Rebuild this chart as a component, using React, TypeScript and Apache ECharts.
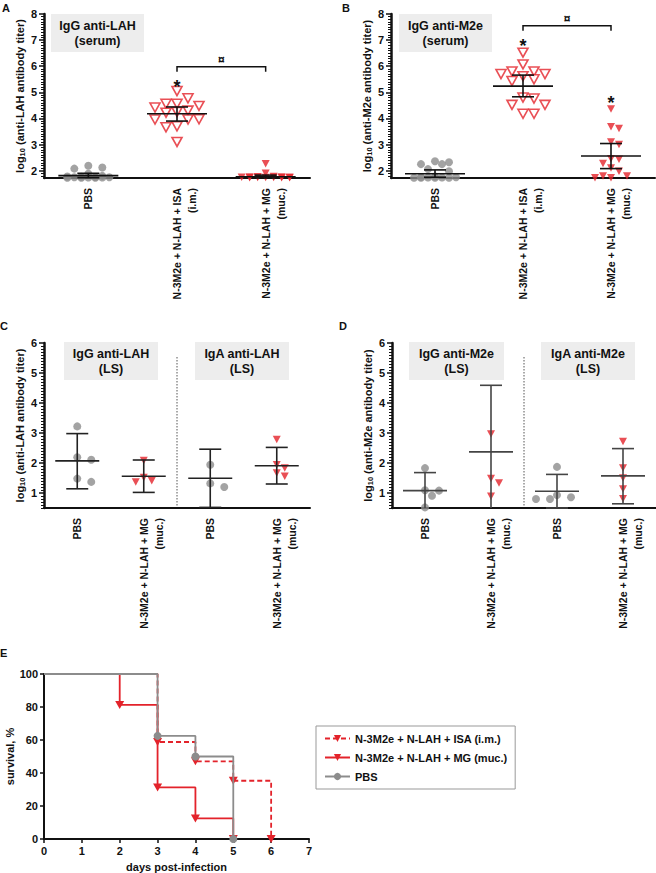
import React, { useEffect, useRef } from "react";
import * as echarts from "echarts";

const FONT = '"Liberation Sans", Arial, sans-serif';
const RED = "#e3232b";
const GRAY = "#8c8c8c";
const INK = "#111111";

// ---------- Panels A / B (serum) ----------
const serumCategories = ["PBS", "N-3M2e + N-LAH + ISA\n(i.m.)", "N-3M2e + N-LAH + MG\n(muc.)"];
const serumTicks = [2, 3, 4, 5, 6, 7, 8];
const serumMin = 1.72;
const serumMax = 8;

const aPBS = [2.19, 2.12, 2.08, 1.88, 1.8, 1.78, 1.77, 1.76, 1.75, 1.75, 1.74, 1.74, 1.73, 1.73, 1.73];
const aISA = [5.05, 4.77, 4.48, 4.56, 4.56, 4.3, 4.22, 4.25, 4.42, 3.96, 3.97, 3.96, 3.7, 3.66, 3.1];
const aMG = [2.27, 1.9, 1.78, 1.77, 1.76, 1.76, 1.75, 1.75, 1.74, 1.74, 1.74, 1.73, 1.73, 1.73];
const aMean = [1.81, 4.18, 1.77];
const aLow = [1.73, 3.9, 1.72];
const aHigh = [1.9, 4.44, 1.83];

const bPBS = [2.36, 2.25, 2.25, 2.32, 2.06, 1.98, 1.78, 1.76, 1.75, 1.74, 1.74, 1.73, 1.73, 1.73, 1.73];
const bISA = [6.52, 6.07, 5.7, 5.8, 5.8, 5.7, 5.62, 5.43, 5.5, 4.76, 4.8, 4.52, 4.52, 4.18, 4.18];
const bMG = [4.36, 3.68, 3.62, 3.1, 3.0, 2.44, 2.46, 2.28, 2.1, 1.98, 1.8, 1.73, 1.73, 1.8];
const bMean = [1.88, 5.24, 2.56];
const bLow = [1.75, 4.83, 2.08];
const bHigh = [2.03, 5.66, 3.04];

// ---------- Panels C / D (lung supernatant) ----------
const lsCategories = ["PBS", "N-3M2e + N-LAH + MG\n(muc.)", "PBS", "N-3M2e + N-LAH + MG\n(muc.)"];
const lsTicks = [1, 2, 3, 4, 5, 6];
const lsMin = 0.5;
const lsMax = 6;

const cPBSIgG = [3.22, 2.19, 2.11, 1.37, 1.48];
const cMGIgG = [2.08, 1.52, 1.37, 1.41];
const cPBSIgA = [1.94, 1.2, 1.32];
const cMGIgA = [2.78, 1.94, 1.83, 1.67, 1.56];
const cMean = [2.07, 1.56, 1.49, 1.91];
const cLow = [1.14, 1.02, 0.52, 1.3];
const cHigh = [2.98, 2.1, 2.46, 2.52];

const dPBSIgG = [1.83, 1.08, 1.09, 0.91, 0.52];
const dMGIgG = [2.97, 1.48, 1.33, 0.89];
const dPBSIgA = [1.87, 0.86, 0.8, 0.8, 0.93];
const dMGIgA = [2.72, 1.83, 1.5, 1.13, 0.81];
const dMean = [1.08, 2.37, 1.06, 1.57];
const dLow = [0.48, 0.15, 0.5, 0.64];
const dHigh = [1.68, 4.59, 1.62, 2.48];

// ---------- Panel E (survival) ----------
const legendNames = ["N-3M2e + N-LAH + ISA (i.m.)", "N-3M2e + N-LAH + MG (muc.)", "PBS"];
const isaDays = [0, 3, 4, 5, 6];
const isaSurvival = [100, 58.8, 47.1, 35.3, 0];
const mgDays = [0, 2, 3, 4, 5];
const mgSurvival = [100, 81.25, 31.25, 12.5, 0];
const pbsDays = [0, 3, 4, 5];
const pbsSurvival = [100, 62.5, 50, 0];

const titles = [
  "IgG anti-LAH\n(serum)",
  "IgG anti-M2e\n(serum)",
  "IgG anti-LAH\n(LS)",
  "IgA anti-LAH\n(LS)",
  "IgG anti-M2e\n(LS)",
  "IgA anti-M2e\n(LS)",
];
const panelLetters = ["A", "B", "C", "D", "E"];

function minorTicks(min: number, max: number): number[] {
  const out: number[] = [];
  for (let k = Math.ceil(min * 10); k <= Math.floor(max * 10); k++) {
    if (k % 10 !== 0) out.push(k / 10);
  }
  return out;
}

function swarm(vals: number[], ppu: number, size: number, step: number, maxHalf: number): number[] {
  const order = vals.map((_, i) => i).sort((a, b) => vals[b] - vals[a]);
  const placed: { x: number; y: number }[] = [];
  const out = new Array(vals.length).fill(0);
  const maxK = Math.floor(maxHalf / step);
  for (const i of order) {
    const y = vals[i] * ppu;
    let best = 0;
    let bestD = -1;
    for (let k = 0; k <= 2 * maxK; k++) {
      const m = k === 0 ? 0 : (k % 2 ? Math.ceil(k / 2) : -k / 2) * step;
      let dmin = Infinity;
      for (const p of placed) dmin = Math.min(dmin, Math.hypot(p.x - m, p.y - y));
      if (dmin >= size) {
        best = m;
        break;
      }
      if (dmin > bestD) {
        bestD = dmin;
        best = m;
      }
    }
    placed.push({ x: best, y });
    out[i] = best;
  }
  return out;
}

function scatter(xi: number, yi: number, cat: number, vals: number[], ppu: number, kind: string) {
  const open = kind === "open";
  const circle = kind === "circle";
  const size = open ? 10 : 8;
  const offs = swarm(vals, ppu, size, open ? 11 : circle ? 7 : 8, open ? 24 : 27);
  return {
    type: "scatter",
    xAxisIndex: xi,
    yAxisIndex: yi,
    z: 3,
    silent: true,
    symbol: circle ? "circle" : "triangle",
    symbolRotate: circle ? 0 : 180,
    symbolSize: circle ? 8 : open ? [10, 9] : [8, 7.5],
    itemStyle: circle
      ? { color: GRAY }
      : open
      ? { color: "#ffffff", borderColor: RED, borderWidth: 1.6 }
      : { color: RED },
    data: vals.map((v, i) => ({ value: [cat, v], symbolOffset: [offs[i], 0] })),
  };
}

function meanErr(xi: number, yi: number, mean: number[], lo: number[], hi: number[], yMin: number, halfMean: number, halfCap: number, color: string) {
  return {
    type: "custom",
    xAxisIndex: xi,
    yAxisIndex: yi,
    silent: true,
    z: 5,
    encode: { x: 0, y: 1 },
    data: mean.map((m, i) => [i, m, lo[i], hi[i]]),
    renderItem: (_p: any, api: any) => {
      const c = api.value(0);
      const lRaw = api.value(2);
      const l = Math.max(lRaw, yMin);
      const pm = api.coord([c, api.value(1)]);
      const pl = api.coord([c, l]);
      const ph = api.coord([c, api.value(3)]);
      const style = { stroke: color, lineWidth: 1.6, fill: null };
      const children: any[] = [
        { type: "line", shape: { x1: pm[0] - halfMean, y1: pm[1], x2: pm[0] + halfMean, y2: pm[1] }, style },
        { type: "line", shape: { x1: pl[0], y1: pl[1], x2: ph[0], y2: ph[1] }, style },
        { type: "line", shape: { x1: ph[0] - halfCap, y1: ph[1], x2: ph[0] + halfCap, y2: ph[1] }, style },
      ];
      if (lRaw >= yMin) {
        children.push({ type: "line", shape: { x1: pl[0] - halfCap, y1: pl[1], x2: pl[0] + halfCap, y2: pl[1] }, style });
      }
      return { type: "group", children };
    },
  };
}

function bracket(xi: number, yi: number, from: number, to: number, y: number) {
  return {
    type: "custom",
    xAxisIndex: xi,
    yAxisIndex: yi,
    silent: true,
    z: 6,
    encode: { x: 0, y: 2 },
    data: [[from, to, y]],
    renderItem: (_p: any, api: any) => {
      const a = api.coord([api.value(0), api.value(2)]);
      const b = api.coord([api.value(1), api.value(2)]);
      return {
        type: "group",
        children: [
          {
            type: "polyline",
            shape: { points: [[a[0], a[1] + 5], [a[0], a[1]], [b[0], b[1]], [b[0], b[1] + 5]] },
            style: { stroke: INK, lineWidth: 1.5, fill: null },
          },
          {
            type: "text",
            x: (a[0] + b[0]) / 2,
            y: a[1] - 7,
            style: { text: "¤", fill: INK, font: `bold 12px ${FONT}`, align: "center", verticalAlign: "middle" },
          },
        ],
      };
    },
  };
}

function stars(xi: number, yi: number, pts: number[][]) {
  return {
    type: "custom",
    xAxisIndex: xi,
    yAxisIndex: yi,
    silent: true,
    z: 6,
    encode: { x: 0, y: 1 },
    data: pts,
    renderItem: (_p: any, api: any) => {
      const p = api.coord([api.value(0), api.value(1)]);
      return {
        type: "text",
        x: p[0],
        y: p[1] + 4,
        style: { text: "*", fill: INK, font: `bold 18px ${FONT}`, align: "center", verticalAlign: "middle" },
      };
    },
  };
}

const sub = (t: string) => `{a|log}{b|10}{a| (${t} antibody titer)}`;
const nameRich = {
  a: { fontSize: 11, fontWeight: "bold", fontFamily: FONT, color: INK, lineHeight: 13 },
  b: { fontSize: 7.5, fontWeight: "bold", fontFamily: FONT, color: INK, lineHeight: 13, verticalAlign: "bottom", padding: [4, 0, 0, 0] },
};

function catAxis(grid: number, data: string[]) {
  return {
    type: "category",
    gridIndex: grid,
    data,
    boundaryGap: true,
    axisLine: { lineStyle: { color: INK, width: 2 } },
    axisTick: { alignWithLabel: true, length: 4, lineStyle: { color: INK, width: 1.5 } },
    axisLabel: {
      rotate: 90,
      margin: 10,
      interval: 0,
      fontSize: 10.5,
      fontWeight: "bold",
      fontFamily: FONT,
      color: INK,
      lineHeight: 15,
      // keep the first line centred on the tick, as in the original figure
      formatter: (v: string) => (v.indexOf("\n") >= 0 ? "\n" + v : v),
    },
    splitLine: { show: false },
  };
}

function valAxis(grid: number, min: number, max: number, ticks: number[], name: string, gap: number) {
  return {
    type: "value",
    gridIndex: grid,
    min,
    max,
    name,
    nameLocation: "middle",
    nameGap: gap,
    nameRotate: 90,
    nameTextStyle: { rich: nameRich },
    axisLine: { show: true, lineStyle: { color: INK, width: 2.5 } },
    axisTick: { show: true, length: 5, customValues: ticks, lineStyle: { color: INK, width: 1.5 } },
    axisLabel: { customValues: ticks, margin: 7, fontSize: 11, fontWeight: "bold", fontFamily: FONT, color: INK },
    splitLine: { show: false },
  };
}

function minorAxis(grid: number, min: number, max: number) {
  return {
    type: "value",
    gridIndex: grid,
    min,
    max,
    axisLine: { show: false },
    axisTick: { show: true, length: 3, customValues: minorTicks(min, max), lineStyle: { color: INK, width: 1 } },
    axisLabel: { show: false },
    splitLine: { show: false },
  };
}

export default function App() {
  const ref = useRef<HTMLDivElement>(null);
  useEffect(() => {
    if (!ref.current) return;
    const chart = echarts.init(ref.current, undefined, { renderer: "svg" });

    const gA = { left: 44, top: 14, width: 266, height: 164 };
    const gB = { left: 391, top: 14, width: 264, height: 164 };
    const gC = { left: 44, top: 343, width: 266, height: 165 };
    const gD = { left: 392, top: 343, width: 264, height: 165 };
    const gE = { left: 44, top: 674, width: 265, height: 165 };
    const gridBase = { containLabel: false, outerBoundsMode: "none" };
    const grids = [gA, gB, gC, gD, gE, gA, gB, gC, gD].map((g) => ({ ...gridBase, ...g }));

    const ppuSerum = gA.height / (serumMax - serumMin);
    const ppuLS = gC.height / (lsMax - lsMin);

    const eAxisLabel = { fontSize: 11, fontWeight: "bold", fontFamily: FONT, color: INK, margin: 6 };
    const eName = { fontSize: 11, fontWeight: "bold", fontFamily: FONT, color: INK };

    const xAxis: any[] = [
      catAxis(0, serumCategories),
      catAxis(1, serumCategories),
      catAxis(2, lsCategories),
      catAxis(3, lsCategories),
      {
        type: "value",
        gridIndex: 4,
        min: 0,
        max: 7,
        interval: 1,
        name: "days post-infection",
        nameLocation: "middle",
        nameGap: 22,
        nameTextStyle: eName,
        axisLine: { lineStyle: { color: INK, width: 2 } },
        axisTick: { length: 4, lineStyle: { color: INK, width: 1.5 } },
        axisLabel: eAxisLabel,
        splitLine: { show: false },
      },
      ...[5, 6, 7, 8].map((g) => ({ type: "value", gridIndex: g, show: false, min: 0, max: 1 })),
    ];
    const yAxis: any[] = [
      valAxis(0, serumMin, serumMax, serumTicks, sub("anti-LAH"), 16),
      valAxis(1, serumMin, serumMax, serumTicks, sub("anti-M2e"), 17),
      valAxis(2, lsMin, lsMax, lsTicks, sub("anti-LAH"), 16),
      valAxis(3, lsMin, lsMax, lsTicks, sub("anti-M2e"), 17),
      {
        type: "value",
        gridIndex: 4,
        min: 0,
        max: 100,
        interval: 20,
        name: "survival, %",
        nameLocation: "middle",
        nameGap: 22,
        nameRotate: 90,
        nameTextStyle: eName,
        axisLine: { show: true, lineStyle: { color: INK, width: 2 } },
        axisTick: { show: true, length: 4, lineStyle: { color: INK, width: 1.5 } },
        axisLabel: eAxisLabel,
        splitLine: { show: false },
      },
      minorAxis(5, serumMin, serumMax),
      minorAxis(6, serumMin, serumMax),
      minorAxis(7, lsMin, lsMax),
      minorAxis(8, lsMin, lsMax),
    ];

    const stepData = (days: number[], surv: number[]) =>
      days.map((d, i) => (i === 0 ? { value: [d, surv[i]], symbol: "none" } : [d, surv[i]]));

    const series: any[] = [
      // A
      scatter(0, 0, 0, aPBS, ppuSerum, "circle"),
      scatter(0, 0, 1, aISA, ppuSerum, "open"),
      scatter(0, 0, 2, aMG, ppuSerum, "filled"),
      meanErr(0, 0, aMean, aLow, aHigh, serumMin, 30, 11, INK),
      bracket(0, 0, 1, 2, 5.98),
      stars(0, 0, [[1, 5.35]]),
      // B
      scatter(1, 1, 0, bPBS, ppuSerum, "circle"),
      scatter(1, 1, 1, bISA, ppuSerum, "open"),
      scatter(1, 1, 2, bMG, ppuSerum, "filled"),
      meanErr(1, 1, bMean, bLow, bHigh, serumMin, 30, 11, INK),
      bracket(1, 1, 1, 2, 7.55),
      stars(1, 1, [[1, 6.94], [2, 4.74]]),
      // C
      scatter(2, 2, 0, cPBSIgG, ppuLS, "circle"),
      scatter(2, 2, 1, cMGIgG, ppuLS, "filled"),
      scatter(2, 2, 2, cPBSIgA, ppuLS, "circle"),
      scatter(2, 2, 3, cMGIgA, ppuLS, "filled"),
      meanErr(2, 2, cMean, cLow, cHigh, lsMin, 22, 11, "#222"),
      // D
      scatter(3, 3, 0, dPBSIgG, ppuLS, "circle"),
      scatter(3, 3, 1, dMGIgG, ppuLS, "filled"),
      scatter(3, 3, 2, dPBSIgA, ppuLS, "circle"),
      scatter(3, 3, 3, dMGIgA, ppuLS, "filled"),
      meanErr(3, 3, dMean, dLow, dHigh, lsMin, 22, 11, "#444"),
      // E
      {
        type: "line",
        name: legendNames[0],
        xAxisIndex: 4,
        yAxisIndex: 4,
        step: "end",
        z: 3,
        symbol: "triangle",
        symbolRotate: 180,
        symbolSize: [9, 8],
        showAllSymbol: true,
        lineStyle: { color: RED, width: 1.8, type: [5, 3] },
        itemStyle: { color: RED },
        data: stepData(isaDays, isaSurvival),
      },
      {
        type: "line",
        name: legendNames[1],
        xAxisIndex: 4,
        yAxisIndex: 4,
        step: "end",
        z: 3,
        symbol: "triangle",
        symbolRotate: 180,
        symbolSize: [9, 8],
        showAllSymbol: true,
        lineStyle: { color: RED, width: 1.8 },
        itemStyle: { color: RED },
        data: stepData(mgDays, mgSurvival),
      },
      {
        type: "line",
        name: legendNames[2],
        xAxisIndex: 4,
        yAxisIndex: 4,
        step: "end",
        z: 4,
        symbol: "circle",
        symbolSize: 8,
        showAllSymbol: true,
        lineStyle: { color: GRAY, width: 1.8 },
        itemStyle: { color: GRAY },
        data: stepData(pbsDays, pbsSurvival),
      },
    ];

    const boxes = [
      { x: 51, y: 14, w: 93, h: 38, t: titles[0] },
      { x: 399, y: 14, w: 93, h: 38, t: titles[1] },
      { x: 64, y: 342, w: 94, h: 38, t: titles[2] },
      { x: 195, y: 342, w: 94, h: 38, t: titles[3] },
      { x: 409, y: 342, w: 95, h: 38, t: titles[4] },
      { x: 541, y: 342, w: 94, h: 38, t: titles[5] },
    ];
    const letterPos = [
      [2, 2],
      [342, 2],
      [0, 320],
      [339, 320],
      [0, 647],
    ];

    const graphic: any[] = [
      ...boxes.flatMap((b) => [
        { type: "rect", x: b.x, y: b.y, z: 0, shape: { width: b.w, height: b.h }, style: { fill: "#ededed" } },
        {
          type: "text",
          x: b.x + b.w / 2,
          y: b.y + b.h / 2,
          z: 1,
          style: { text: b.t, font: `bold 12.5px ${FONT}`, fill: INK, align: "center", verticalAlign: "middle", lineHeight: 15 },
        },
      ]),
      ...panelLetters.map((t, i) => ({
        type: "text",
        x: letterPos[i][0],
        y: letterPos[i][1],
        style: { text: t, font: `bold 11px ${FONT}`, fill: INK },
      })),
      ...[gC, gD].map((g) => ({
        type: "line",
        shape: { x1: g.left + g.width / 2, y1: 357, x2: g.left + g.width / 2, y2: g.top + g.height },
        style: { stroke: "#555", lineWidth: 1, lineDash: [1.5, 1.5] },
      })),
    ];

    chart.setOption({
      animation: false,
      backgroundColor: "#ffffff",
      textStyle: { fontFamily: FONT },
      grid: grids,
      xAxis,
      yAxis,
      legend: {
        data: legendNames,
        orient: "vertical",
        left: 316,
        top: 726,
        itemWidth: 25,
        itemHeight: 9,
        itemGap: 8,
        padding: [7, 8, 7, 8],
        borderColor: "#999",
        borderWidth: 1,
        textStyle: { fontSize: 11, fontWeight: "bold", fontFamily: FONT, color: INK },
      },
      graphic,
      series,
    });
    return () => chart.dispose();
  }, []);
  return <div ref={ref} style={{ position: "absolute", left: 0, top: 0, width: 656, height: 873 }} />;
}
